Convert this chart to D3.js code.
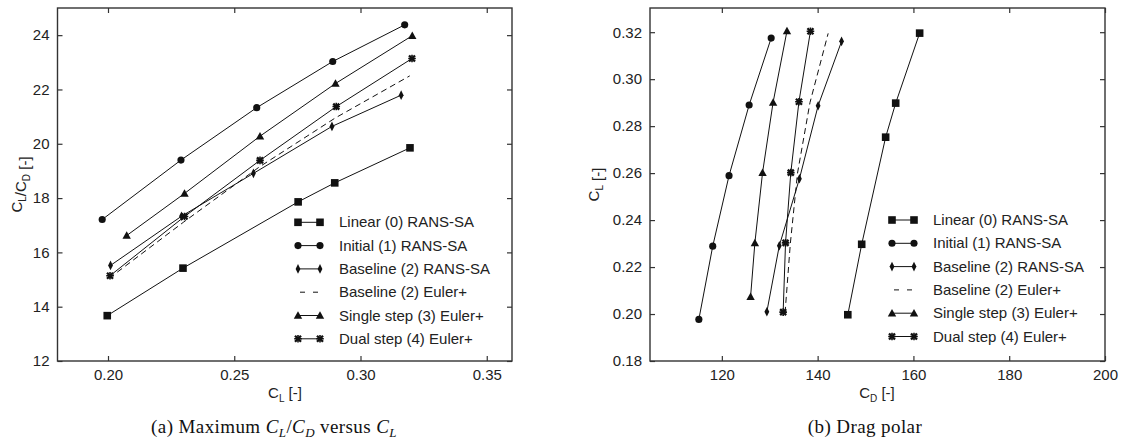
<!DOCTYPE html>
<html>
<head>
<meta charset="utf-8">
<script src="https://cdn.jsdelivr.net/npm/d3@7"></script>
<style>
  body { margin: 0; background: #fff; }
  svg { display: block; }
  .tick-label { font-family: "Liberation Sans", Arial, sans-serif; font-size: 15px; fill: #222; }
  .axis-title { font-family: "Liberation Sans", Arial, sans-serif; font-size: 15px; fill: #222; }
  .legend-text { font-family: "Liberation Sans", Arial, sans-serif; font-size: 15px; fill: #222; }
  .caption { font-family: "Liberation Serif", "Times New Roman", serif; font-size: 19px; letter-spacing: 0.4px; fill: #111; }
</style>
</head>
<body>
<div id="chart"></div>
<script>
// Series names and marker types
const seriesNames = [
  "Linear (0) RANS-SA",
  "Initial (1) RANS-SA",
  "Baseline (2) RANS-SA",
  "Baseline (2) Euler+",
  "Single step (3) Euler+",
  "Dual step (4) Euler+"
];
const seriesMarkers = ["square", "circle", "diamond", "none", "triangle", "star"];

// Lift coefficient of each point
const clLinear   = [0.1997, 0.2297, 0.2753, 0.2898, 0.3196];
const clInitial  = [0.1977, 0.2289, 0.2589, 0.2890, 0.3175];
const clBaseRans = [0.2010, 0.2291, 0.2576, 0.2887, 0.3161];
const clBaseEul  = [0.2005, 0.2300, 0.2600, 0.2900, 0.3195];
const clSingle   = [0.2074, 0.2303, 0.2602, 0.2901, 0.3205];
const clDual     = [0.2008, 0.2303, 0.2602, 0.2904, 0.3204];

// Lift to drag ratio (panel a)
const ldLinear   = [13.67, 15.42, 17.86, 18.56, 19.85];
const ldInitial  = [17.21, 19.40, 21.33, 23.03, 24.38];
const ldBaseRans = [15.52, 17.33, 18.91, 20.64, 21.79];
const ldBaseEul  = [15.05, 17.12, 19.15, 20.95, 22.50];
const ldSingle   = [16.62, 18.17, 20.28, 22.22, 23.98];
const ldDual     = [15.14, 17.32, 19.39, 21.37, 23.14];

// Drag coefficient in counts (panel b)
const cdLinear   = [146.3, 149.2, 154.2, 156.3, 161.3];
const cdInitial  = [115.2, 118.1, 121.5, 125.7, 130.3];
const cdBaseRans = [129.4, 132.0, 136.2, 140.1, 145.0];
const cdBaseEul  = [133.2, 134.3, 135.8, 138.4, 142.2];
const cdSingle   = [126.0, 126.9, 128.5, 130.7, 133.6];
const cdDual     = [132.8, 133.3, 134.4, 136.1, 138.5];

// Tick values
const ticksAx = [0.20, 0.25, 0.30, 0.35];
const ticksAy = [12, 14, 16, 18, 20, 22, 24];
const ticksBx = [120, 140, 160, 180, 200];
const ticksBy = [0.18, 0.20, 0.22, 0.24, 0.26, 0.28, 0.30, 0.32];

const clAll = [clLinear, clInitial, clBaseRans, clBaseEul, clSingle, clDual];
const ldAll = [ldLinear, ldInitial, ldBaseRans, ldBaseEul, ldSingle, ldDual];
const cdAll = [cdLinear, cdInitial, cdBaseRans, cdBaseEul, cdSingle, cdDual];

const svgWidth = 1122;
const svgHeight = 445;

const svg = d3.select("#chart")
  .append("svg")
  .attr("width", svgWidth)
  .attr("height", svgHeight);

// marker path generator
function markerPath(type) {
  switch (type) {
    case "square": return "M-3.8,-3.8H3.8V3.8H-3.8Z";
    case "circle": return d3.symbol(d3.symbolCircle, 40)();
    case "diamond": return "M0,-4.8L2.4,0L0,4.8L-2.4,0Z";
    case "triangle": return "M0,-4.2L4.2,3.3H-4.2Z";
    default: return null;
  }
}

function drawMarker(g, type, x, y) {
  if (type === "none") return;
  if (type === "star") {
    const s = g.append("g").attr("transform", `translate(${x},${y})`);
    s.append("path").attr("d", "M-3,-3L3,3M-3,3L3,-3")
      .attr("stroke", "#111").attr("stroke-width", 2.3);
    s.append("path").attr("d", "M0,-3.8V3.8M-3.8,0H3.8")
      .attr("stroke", "#111").attr("stroke-width", 1.6);
    return;
  }
  g.append("path")
    .attr("d", markerPath(type))
    .attr("transform", `translate(${x},${y})`)
    .attr("fill", "#111");
}

function drawPanel(opts) {
  const { left, top, right, bottom } = opts;
  const x = d3.scaleLinear().domain(opts.xDomain).range([left, right]);
  const y = d3.scaleLinear().domain(opts.yDomain).range([bottom, top]);
  const g = svg.append("g");

  // data lines
  const line = d3.line().x(d => x(d[0])).y(d => y(d[1]));
  opts.series.forEach((pts, i) => {
    g.append("path")
      .datum(pts)
      .attr("d", line)
      .attr("fill", "none")
      .attr("stroke", "#111")
      .attr("stroke-width", 1)
      .attr("stroke-dasharray", seriesMarkers[i] === "none" ? "6,4" : null);
  });
  opts.series.forEach((pts, i) => {
    pts.forEach(p => drawMarker(g, seriesMarkers[i], x(p[0]), y(p[1])));
  });

  // axes with inward ticks on all four sides
  const axisColor = "#333";
  const bottomAxis = d3.axisBottom(x).tickValues(opts.xTicks).tickSize(-5).tickPadding(8).tickFormat(opts.xFormat);
  const topAxis = d3.axisTop(x).tickValues(opts.xTicks).tickSize(-5).tickFormat("");
  const leftAxis = d3.axisLeft(y).tickValues(opts.yTicks).tickSize(-5).tickPadding(8).tickFormat(opts.yFormat);
  const rightAxis = d3.axisRight(y).tickValues(opts.yTicks).tickSize(-5).tickFormat("");

  const axes = [
    g.append("g").attr("transform", `translate(0,${bottom})`).call(bottomAxis),
    g.append("g").attr("transform", `translate(0,${top})`).call(topAxis),
    g.append("g").attr("transform", `translate(${left},0)`).call(leftAxis),
    g.append("g").attr("transform", `translate(${right},0)`).call(rightAxis)
  ];
  axes.forEach(a => {
    a.select(".domain").remove();
    a.selectAll(".tick line").attr("stroke", axisColor).attr("stroke-width", 1.2);
    a.selectAll(".tick text").attr("class", "tick-label").attr("font-size", null).attr("font-family", null);
  });

  // frame
  g.append("rect")
    .attr("x", left).attr("y", top)
    .attr("width", right - left).attr("height", bottom - top)
    .attr("fill", "none")
    .attr("stroke", axisColor)
    .attr("stroke-width", 1.4);

  // x axis title
  const xt = g.append("text").attr("class", "axis-title")
    .attr("x", opts.xTitleX).attr("y", bottom + 37).attr("text-anchor", "middle");
  xt.append("tspan").text("C");
  xt.append("tspan").attr("dy", 4).attr("font-size", "10px").text(opts.xSub);
  xt.append("tspan").attr("dy", -4).text(" [-]");

  // y axis title
  const yt = g.append("text").attr("class", "axis-title")
    .attr("transform", `translate(${opts.yTitleX},${(top + bottom) / 2}) rotate(-90)`)
    .attr("text-anchor", "middle");
  opts.yTitleParts.forEach(p => {
    if (p.sub) {
      yt.append("tspan").attr("dy", 4).attr("font-size", "10px").text(p.t);
      yt.append("tspan").attr("dy", -4).text("");
    } else {
      yt.append("tspan").text(p.t);
    }
  });

  // legend
  const lg = g.append("g").attr("transform", `translate(${opts.legendX},${opts.legendY})`);
  seriesNames.forEach((name, i) => {
    const row = lg.append("g").attr("transform", `translate(0,${i * 23.3})`);
    if (seriesMarkers[i] === "none") {
      row.append("line").attr("x1", 4).attr("x2", 22).attr("y1", 0).attr("y2", 0)
        .attr("stroke", "#111").attr("stroke-width", 1).attr("stroke-dasharray", "5,8");
    } else {
      row.append("line").attr("x1", 2).attr("x2", 24).attr("y1", 0).attr("y2", 0)
        .attr("stroke", "#111").attr("stroke-width", 1);
      drawMarker(row, seriesMarkers[i], 2, 0);
      drawMarker(row, seriesMarkers[i], 24, 0);
    }
    row.append("text").attr("class", "legend-text")
      .attr("x", 43).attr("y", 5).text(name);
  });

  // caption
  const cap = g.append("text").attr("class", "caption")
    .attr("x", opts.captionX).attr("y", 433).attr("text-anchor", "middle");
  opts.caption.forEach(p => {
    const ts = cap.append("tspan").text(p.t);
    if (p.i) ts.attr("font-style", "italic");
    if (p.sub) ts.attr("dy", 4).attr("font-size", "13px");
    if (p.up) ts.attr("dy", -4);
  });
}

// Panel (a): maximum L/D versus CL
drawPanel({
  left: 57.5, top: 8, right: 512, bottom: 361,
  xDomain: [0.18, 0.36], yDomain: [12, 25],
  xTicks: ticksAx, yTicks: ticksAy,
  xFormat: d3.format(".2f"), yFormat: d3.format("d"),
  series: clAll.map((cl, i) => cl.map((c, j) => [c, ldAll[i][j]])),
  xSub: "L", xTitleX: 285,
  yTitleX: 22,
  yTitleParts: [{ t: "C" }, { t: "L", sub: true }, { t: "/C" }, { t: "D", sub: true }, { t: " [-]" }],
  legendX: 296, legendY: 222.3,
  captionX: 274,
  caption: [
    { t: "(a)  Maximum " }, { t: "C", i: true }, { t: "L", i: true, sub: true },
    { t: "/", up: true }, { t: "C", i: true }, { t: "D", i: true, sub: true },
    { t: " versus ", up: true }, { t: "C", i: true }, { t: "L", i: true, sub: true }
  ]
});

// Panel (b): drag polar
drawPanel({
  left: 650, top: 8, right: 1105, bottom: 361,
  xDomain: [105, 200], yDomain: [0.18, 0.3303],
  xTicks: ticksBx, yTicks: ticksBy,
  xFormat: d3.format("d"), yFormat: d3.format(".2f"),
  series: clAll.map((cl, i) => cl.map((c, j) => [cdAll[i][j], c])),
  xSub: "D", xTitleX: 877,
  yTitleX: 599,
  yTitleParts: [{ t: "C" }, { t: "L", sub: true }, { t: " [-]" }],
  legendX: 890, legendY: 220,
  captionX: 865,
  caption: [{ t: "(b)  Drag polar" }]
});
</script>
</body>
</html>
